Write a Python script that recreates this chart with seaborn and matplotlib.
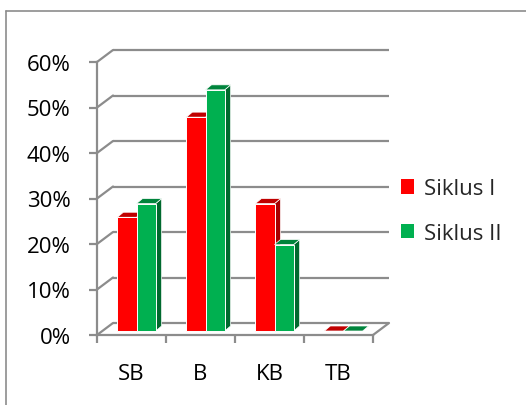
import numpy as np
import pandas as pd
import seaborn as sns
import matplotlib
matplotlib.use("Agg")
import matplotlib.pyplot as plt
from matplotlib import transforms as mtrans
from matplotlib.patches import Polygon, Patch
from matplotlib.lines import Line2D

# ---- data ----
categories = ["SB", "B", "KB", "TB"]
siklus_1 = [0.25, 0.47, 0.28, 0.0]
siklus_2 = [0.28, 0.53, 0.19, 0.0]
series_names = ["Siklus I", "Siklus II"]
y_ticks = [0.0, 0.1, 0.2, 0.3, 0.4, 0.5, 0.6]
y_tick_labels = ["0%", "10%", "20%", "30%", "40%", "50%", "60%"]

front_colors = ["#FF0000", "#00B050"]
side_colors = ["#A80000", "#00692E"]
top_colors = ["#C00000", "#00843C"]
grid_color = "#8C8C8C"

df = pd.DataFrame({
    "cat": categories * 2,
    "val": siklus_1 + siklus_2,
    "series": [series_names[0]] * len(categories) + [series_names[1]] * len(categories),
})

sns.set_theme(style="white")
plt.rcParams["font.family"] = ["Open Sans", "DejaVu Sans"]
FS = 16

W, H = 526, 406
fig = plt.figure(figsize=(W / 100, H / 100), dpi=100)
ax = fig.add_axes([97 / W, (H - 336) / H, 276 / W, 273 / H])

sns.barplot(data=df, x="cat", y="val", hue="series", order=categories,
            hue_order=series_names, palette=front_colors, saturation=1,
            width=0.555, edgecolor="white", linewidth=0.7, ax=ax,
            legend=False, zorder=3)
ax.set_xlim(-0.5, 3.5)
ax.set_ylim(0, 0.6)

# pixel -> data conversions
px_x = 276 / 4.0
px_y = 273 / 0.6
# depth of back wall and of bars (pixels)
BX, BY = 16, 12
FX, FY = 5, 4
DX, DY = 6, 5

# back wall gridlines + left wall diagonals
for yv in y_ticks:
    ax.plot([-0.5 + BX / px_x, 3.5 + BX / px_x], [yv + BY / px_y] * 2,
            color=grid_color, lw=1.6, zorder=0, clip_on=False,
            solid_capstyle="butt")
    ax.plot([-0.5, -0.5 + BX / px_x], [yv, yv + BY / px_y],
            color=grid_color, lw=1.6, zorder=0, clip_on=False)
# floor right edge
ax.plot([3.5, 3.5 + BX / px_x], [0, BY / px_y], color=grid_color, lw=1.6,
        zorder=0, clip_on=False)

# 3D bars
front_tr = mtrans.offset_copy(ax.transData, fig=fig, x=FX, y=FY, units="dots")
bars = sorted([p for p in ax.patches], key=lambda p: p.get_x())
for i, p in enumerate(bars):
    fc = p.get_facecolor()
    k = 0 if np.allclose(fc[:3], matplotlib.colors.to_rgb(front_colors[0])) else 1
    x0, w, h = p.get_x(), p.get_width(), p.get_height()
    ddx, ddy = DX / px_x, DY / px_y
    z = 3 + i * 0.1
    p.set_transform(front_tr)
    p.set_clip_on(False)
    p.set_zorder(z + 0.05)
    side = Polygon([(x0 + w, 0), (x0 + w, h), (x0 + w + ddx, h + ddy), (x0 + w + ddx, ddy)],
                   closed=True, facecolor=side_colors[k], edgecolor="white", lw=0.5,
                   transform=front_tr, clip_on=False, zorder=z)
    top = Polygon([(x0, h), (x0 + w, h), (x0 + w + ddx, h + ddy), (x0 + ddx, h + ddy)],
                  closed=True, facecolor=top_colors[k], edgecolor="white", lw=0.5,
                  transform=front_tr, clip_on=False, zorder=z + 0.02)
    ax.add_patch(side)
    ax.add_patch(top)

# axes styling
for s in ["top", "right"]:
    ax.spines[s].set_visible(False)
for s in ["left", "bottom"]:
    ax.spines[s].set_color(grid_color)
    ax.spines[s].set_linewidth(1.6)
    ax.spines[s].set_zorder(1)

ax.set_yticks(y_ticks)
ax.set_yticklabels(y_tick_labels, fontsize=FS, color="black")
ax.tick_params(axis="y", which="major", direction="out", length=6, width=1.6,
               color=grid_color, pad=13, left=True)
ax.set_xticks([-0.5, 0.5, 1.5, 2.5, 3.5])
ax.set_xticklabels([])
ax.tick_params(axis="x", which="major", direction="out", length=6, width=1.6,
               color=grid_color, bottom=True)
ax.set_xticks(range(len(categories)), minor=True)
ax.set_xticklabels(categories, minor=True, fontsize=FS, color="black")
ax.tick_params(axis="x", which="minor", length=0, pad=20)
ax.set_xlabel("")
ax.set_ylabel("")
ax.set_facecolor("none")

# legend
handles = [Patch(facecolor=c, edgecolor="none") for c in front_colors]
fig.legend(handles, series_names, loc="center left",
           bbox_to_anchor=(401 / W, (H - 212) / H), frameon=False,
           fontsize=FS, handlelength=0.6, handleheight=0.6,
           handletextpad=0.45, labelspacing=1.05, borderpad=0, borderaxespad=0)

# outer frame (left and top visible)
fig.add_artist(Line2D([6 / W, 6 / W], [0, (H - 12) / H], color="#8C8C8C", lw=1.2,
                      transform=fig.transFigure))
fig.add_artist(Line2D([6 / W, 1], [(H - 12) / H, (H - 12) / H], color="#8C8C8C", lw=1.2,
                      transform=fig.transFigure))

fig.savefig("out.png", dpi=100, facecolor="white")
